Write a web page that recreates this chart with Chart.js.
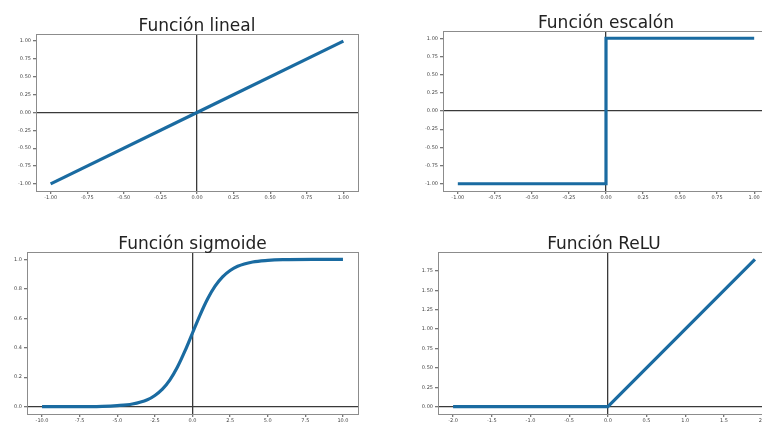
<!DOCTYPE html>
<html lang="es">
<head>
    <meta charset="UTF-8">
    <title>Funciones de activación</title>
    <style>
        body {
            margin: 0;
            width: 762px;
            height: 422px;
            overflow: hidden;
            background: #fff;
            position: relative;
            font-family: "DejaVu Sans", sans-serif;
        }
        .panel {
            position: absolute;
        }
        .titulo {
            position: absolute;
            font-size: 17px;
            line-height: 20px;
            color: #222;
            text-align: center;
            white-space: nowrap;
        }
    </style>
</head>
<body>
    <div class="panel" style="left:0;top:0"><canvas id="lineal" width="381" height="211"></canvas></div>
    <div class="panel" style="left:381px;top:0"><canvas id="escalon" width="400" height="211"></canvas></div>
    <div class="panel" style="left:0;top:211px"><canvas id="sigmoide" width="381" height="225"></canvas></div>
    <div class="panel" style="left:381px;top:211px"><canvas id="relu" width="400" height="225"></canvas></div>

    <div class="titulo" style="left:36px;width:322px;top:15px">Función lineal</div>
    <div class="titulo" style="left:443px;width:326px;top:12px">Función escalón</div>
    <div class="titulo" style="left:27px;width:331px;top:233px">Función sigmoide</div>
    <div class="titulo" style="left:438px;width:332px;top:233px">Función ReLU</div>

    <script src="https://cdn.jsdelivr.net/npm/chart.js"></script>
    <script>
        // datos
        const linealX = [-1, 0, 1];
        const linealY = [-1, 0, 1];

        const escalonX = [-1, 0, 0, 1];
        const escalonY = [-1, -1, 1, 1];

        const sigmoideX = [-10, -8, -6, -5, -4, -3, -2.5, -2, -1.5, -1, -0.5, 0, 0.5, 1, 1.5, 2, 2.5, 3, 4, 5, 6, 8, 10];
        const sigmoideY = [0.000, 0.000, 0.002, 0.007, 0.018, 0.047, 0.076, 0.119, 0.182, 0.269, 0.378, 0.500, 0.622, 0.731, 0.818, 0.881, 0.924, 0.953, 0.982, 0.993, 0.998, 1.000, 1.000];

        const reluX = [-2, 0, 1.9];
        const reluY = [0, 0, 1.9];

        // etiquetas de los ejes
        const ticksUnidad = [-1, -0.75, -0.5, -0.25, 0, 0.25, 0.5, 0.75, 1];
        const ticksSigmoideX = [-10, -7.5, -5, -2.5, 0, 2.5, 5, 7.5, 10];
        const ticksSigmoideY = [0, 0.2, 0.4, 0.6, 0.8, 1];
        const ticksReluX = [-2, -1.5, -1, -0.5, 0, 0.5, 1, 1.5, 2];
        const ticksReluY = [0, 0.25, 0.5, 0.75, 1, 1.25, 1.5, 1.75];

        const azul = '#1a6ba1';

        // marco completo alrededor del área (como matplotlib)
        const marco = {
            id: 'marco',
            beforeDatasetsDraw(chart) {
                const a = chart.chartArea;
                const ctx = chart.ctx;
                ctx.save();
                ctx.strokeStyle = '#8c8c8c';
                ctx.lineWidth = 1;
                ctx.strokeRect(Math.round(a.left) + 0.5, Math.round(a.top) + 0.5,
                    Math.round(a.right - a.left), Math.round(a.bottom - a.top));
                ctx.restore();
            }
        };

        function eje(ticks, dec, min, max, tam, esY) {
            return {
                type: 'linear',
                min: min,
                max: max,
                afterBuildTicks: s => { s.ticks = ticks.map(v => ({ value: v })); },
                afterFit: s => { if (esY) s.width = tam; else s.height = tam; },
                border: { display: false },
                grid: {
                    color: c => (c.tick && c.tick.value === 0) ? '#3a3a3a' : 'rgba(0,0,0,0)',
                    lineWidth: 1.3,
                    tickColor: '#777',
                    tickLength: 3,
                    drawTicks: true
                },
                ticks: {
                    autoSkip: false,
                    maxRotation: 0,
                    padding: esY ? 2 : 1,
                    color: '#444',
                    font: { family: 'DejaVu Sans', size: 5 },
                    callback: v => Number(v).toFixed(dec)
                }
            };
        }

        function grafica(id, xs, ys, ejeX, ejeY, padding, suave) {
            const ctx = document.getElementById(id).getContext('2d');
            return new Chart(ctx, {
                type: 'line',
                data: {
                    datasets: [{
                        data: xs.map((x, i) => ({ x: x, y: ys[i] })),
                        borderColor: azul,
                        borderWidth: 3.2,
                        pointRadius: 0,
                        fill: false,
                        cubicInterpolationMode: suave ? 'monotone' : 'default',
                        tension: 0
                    }]
                },
                options: {
                    responsive: false,
                    animation: false,
                    layout: { padding: padding },
                    plugins: {
                        legend: { display: false },
                        tooltip: { enabled: false }
                    },
                    scales: { x: ejeX, y: ejeY }
                },
                plugins: [marco]
            });
        }

        grafica('lineal', linealX, linealY,
            eje(ticksUnidad, 2, -1.1, 1.1, 20, false),
            eje(ticksUnidad, 2, -1.1, 1.1, 36, true),
            { left: 0, right: 23, top: 34, bottom: 0 }, false);

        grafica('escalon', escalonX, escalonY,
            eje(ticksUnidad, 2, -1.1, 1.1, 20, false),
            eje(ticksUnidad, 2, -1.1, 1.1, 62, true),
            { left: 0, right: 12, top: 31, bottom: 0 }, false);

        grafica('sigmoide', sigmoideX, sigmoideY,
            eje(ticksSigmoideX, 1, -11, 11, 22, false),
            eje(ticksSigmoideY, 1, -0.05, 1.05, 27, true),
            { left: 0, right: 23, top: 41, bottom: 0 }, true);

        grafica('relu', reluX, reluY,
            eje(ticksReluX, 1, -2.195, 2.095, 22, false),
            eje(ticksReluY, 2, -0.095, 1.995, 57, true),
            { left: 0, right: 11, top: 41, bottom: 0 }, false);
    </script>
</body>
</html>
